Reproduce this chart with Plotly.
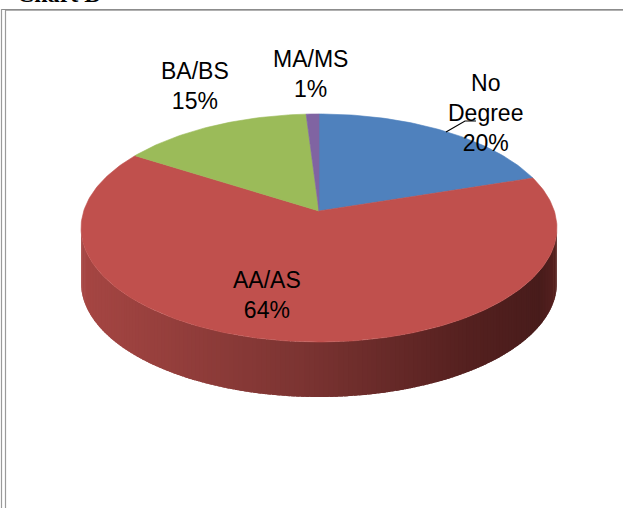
import math
import plotly.graph_objects as go

# ---------------- data ----------------
categories = ["No Degree", "AA/AS", "BA/BS", "MA/MS"]
values = [20, 64, 15, 1]
top_colors = ["#4F81BD", "#C0504D", "#9BBB59", "#8064A2"]
title_text = "Chart B"

# ---------------- geometry / style (pixels) ----------------
W, H = 623, 508
X0, Y0 = 319.0, 211.0      # projected pie centre
A, B = 235.3, 111.5        # projected radii factors
K = 0.149                  # perspective factor
DEPTH = 55.0               # pie thickness
FONT = "Liberation Sans, Arial, sans-serif"

label_pos = {               # text block centres
    "No Degree": (485, 113),
    "AA/AS": (267, 295),
    "BA/BS": (195, 86),
    "MA/MS": (310, 74),
}


def proj(phi):
    u = math.sin(phi)
    v = -math.cos(phi)
    s = 1.0 / (1.0 - K * v)
    return X0 + A * u * s, Y0 + B * v * s


def side_color(x):
    stops = [(80, (166, 70, 67)), (300, (124, 52, 50)), (470, (84, 32, 31)),
             (540, (72, 28, 27)), (557, (88, 33, 31))]
    if x <= stops[0][0]:
        c = stops[0][1]
    elif x >= stops[-1][0]:
        c = stops[-1][1]
    else:
        for (xa, ca), (xb, cb) in zip(stops, stops[1:]):
            if xa <= x <= xb:
                t = (x - xa) / (xb - xa)
                c = tuple(ca[i] + (cb[i] - ca[i]) * t for i in range(3))
                break
    return "rgb(%d,%d,%d)" % tuple(int(round(ch)) for ch in c)


total = float(sum(values))
bounds = []
acc = 0.0
for v in values:
    a0 = acc / total * 2 * math.pi
    acc += v
    a1 = acc / total * 2 * math.pi
    bounds.append((a0, a1))

fig = go.Figure()

# side walls (visible front part only), drawn as overlapping strips
phi_lo = math.pi / 2 + math.asin(K)
phi_hi = 3 * math.pi / 2 - math.asin(K)
for (a0, a1), col in zip(bounds, top_colors):
    s0, s1 = max(a0, phi_lo), min(a1, phi_hi)
    if s1 <= s0:
        continue
    n = max(2, int((s1 - s0) / math.radians(1.0)))
    step = (s1 - s0) / n
    for i in range(n):
        p0 = s0 + step * i
        p1 = min(s1, p0 + step * 1.8)
        m = 4
        xs_t, ys_t = [], []
        for j in range(m + 1):
            px, py = proj(p0 + (p1 - p0) * j / m)
            xs_t.append(px)
            ys_t.append(py)
        xs = xs_t + xs_t[::-1] + [xs_t[0]]
        ys = ys_t + [y + DEPTH for y in ys_t[::-1]] + [ys_t[0]]
        c = side_color(proj(p0 + step / 2)[0])
        fig.add_trace(go.Scatter(
            x=xs, y=ys, mode="lines", fill="toself", fillcolor=c,
            line=dict(width=0), hoverinfo="skip", showlegend=False))

# top faces
for (a0, a1), col, cat in zip(bounds, top_colors, categories):
    n = max(3, int((a1 - a0) / math.radians(1)))
    xs, ys = [X0], [Y0]
    for i in range(n + 1):
        px, py = proj(a0 + (a1 - a0) * i / n)
        xs.append(px)
        ys.append(py)
    xs.append(X0)
    ys.append(Y0)
    fig.add_trace(go.Scatter(
        x=xs, y=ys, mode="lines", fill="toself", fillcolor=col,
        line=dict(color=col, width=0.6), name=cat, hoverinfo="name",
        showlegend=False))

# leader line for "No Degree"
fig.add_trace(go.Scatter(x=[446, 465, 476], y=[132, 121, 121], mode="lines",
                         line=dict(color="black", width=1.2),
                         hoverinfo="skip", showlegend=False))

# data labels
for cat, v in zip(categories, values):
    pct = round(v / total * 100)
    txt = cat.replace(" ", "<br>") + "<br>" + "%d%%" % pct
    x, y = label_pos[cat]
    fig.add_annotation(x=x, y=y, xref="x", yref="y", text=txt, showarrow=False,
                       xanchor="center", yanchor="middle", align="center",
                       font=dict(family=FONT, size=23, color="black"))

# cut-off title at the very top (only its lower part shows, as in the source)
fig.add_annotation(x=15, y=9, xref="x", yref="y", text="<b>%s</b>" % title_text,
                   showarrow=False, xanchor="left", yanchor="bottom",
                   font=dict(family="Liberation Serif, Times New Roman, serif",
                             size=24, color="black"))

# page frame lines
frame = [
    (1, 9.5, W, 9.5, "#8c8c8c"),
    (6, 10.5, W, 10.5, "#b0b0b0"),
    (1.5, 9, 1.5, H, "#9a9a9a"),
    (5.5, 10, 5.5, H, "#9a9a9a"),
]
for x0, y0, x1, y1, c in frame:
    fig.add_shape(type="line", x0=x0, y0=y0, x1=x1, y1=y1, xref="x", yref="y",
                  line=dict(color=c, width=1.2))

fig.update_layout(
    width=W, height=H, margin=dict(l=0, r=0, t=0, b=0),
    paper_bgcolor="white", plot_bgcolor="white",
    xaxis=dict(range=[0, W], visible=False, fixedrange=True),
    yaxis=dict(range=[H, 0], visible=False, fixedrange=True),
    showlegend=False,
)

fig.write_html("out.html", config={"displayModeBar": False},
               post_script="document.body.style.margin='0';document.body.style.overflow='hidden';")
